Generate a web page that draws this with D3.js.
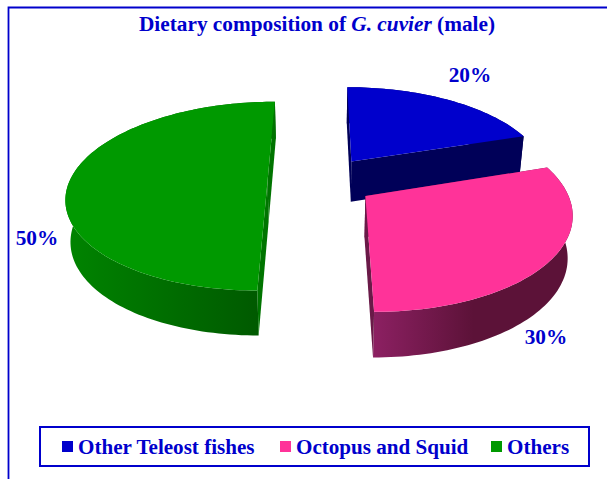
<!DOCTYPE html>
<html><head><meta charset="utf-8">
<script src="https://cdn.jsdelivr.net/npm/d3@7"></script>
<style>html,body{margin:0;padding:0;background:#fff}svg{display:block}text{font-family:"Liberation Serif",serif;font-weight:bold;fill:#0000cc}</style>
</head><body><svg id="c" width="607" height="479"></svg>
<script>
const categories = ["Other Teleost fishes", "Octopus and Squid", "Others"];
const values = [20, 30, 50];
const colors = ["#0000cc", "#ff3399", "#009900"];
const wallLight = ["#00006e", "#8c2062", "#008400"];
const wallDark = ["#000050", "#5c1238", "#005600"];
const cutColors = ["#000058", "#6a1a48", "#007400"];
const labels = ["20%", "30%", "50%"];

const W = 607, H = 479;
const svg = d3.select("#c");
const defs = svg.append("defs");

const startDeg = 0, cx = 321, cy = 181, Rx = 198, Ry = 92, k = 0.16, explode = 0.27, taper = 0.98;
const pie = d3.pie().sort(null).value(d => d)
  .startAngle(startDeg * Math.PI / 180).endAngle((startDeg + 360) * Math.PI / 180);
const arcs = pie(values);

const proj = (u, v) => { const w = 1 - k * v; return [cx + Rx * u / w, cy + Ry * v / w]; };
const depth = v => 41 + 4 * v;
const line = d3.line();

function slicePts(a) {
  const mid = (a.startAngle + a.endAngle) / 2;
  const ou = explode * Math.sin(mid), ov = -explode * Math.cos(mid);
  const n = Math.max(4, Math.ceil((a.endAngle - a.startAngle) * 40));
  const ang = d3.range(n + 1).map(i => a.startAngle + (a.endAngle - a.startAngle) * i / n);
  const rim = ang.map(t => [ou + Math.sin(t), ov - Math.cos(t)]);
  return { apex: [ou, ov], rim };
}
const topPt = p => proj(p[0], p[1]);
const botPt = p => { const q = proj(p[0], p[1]); return [cx + (q[0] - cx) * taper, q[1] + depth(p[1])]; };

const order = [2, 0, 1];
order.forEach(i => {
  const a = arcs[i], s = slicePts(a), g = svg.append("g");
  const tr = s.rim.map(topPt), br = s.rim.map(botPt);
  const xs = tr.map(p => p[0]);
  const gid = "w" + i;
  const lg = defs.append("linearGradient").attr("id", gid).attr("gradientUnits", "userSpaceOnUse")
    .attr("x1", d3.min(xs)).attr("x2", d3.max(xs)).attr("y1", 0).attr("y2", 0);
  lg.append("stop").attr("offset", 0).attr("stop-color", wallLight[i]);
  lg.append("stop").attr("offset", i === 1 ? 0.5 : 1).attr("stop-color", wallDark[i]);
  if (i === 1) lg.append("stop").attr("offset", 1).attr("stop-color", wallDark[i]);
  // outer wall
  g.append("path").attr("d", line(tr.concat(br.slice().reverse())) + "Z").attr("fill", `url(#${gid})`);
  // cut faces
  [s.rim[0], s.rim[s.rim.length - 1]].forEach(r => {
    g.append("path").attr("d", line([topPt(s.apex), topPt(r), botPt(r), botPt(s.apex)]) + "Z").attr("fill", cutColors[i]);
  });
  // top face
  g.append("path").attr("d", line([topPt(s.apex)].concat(tr)) + "Z").attr("fill", colors[i]);
});

// frame
svg.append("path").attr("d", d3.line()([[8.5, H], [8.5, 7.5], [W, 7.5]]))
  .attr("fill", "none").attr("stroke", "#0000cc").attr("stroke-width", 1.8);

svg.append("text").attr("x", 317).attr("y", 30.5).attr("text-anchor", "middle").attr("font-size", 21.3)
  .call(t => {
    t.append("tspan").text("Dietary composition of ");
    t.append("tspan").attr("font-style", "italic").text("G. cuvier");
    t.append("tspan").text(" (male)");
  });

const labelPos = [[470, 82], [546, 344], [37, 245]];
labels.forEach((l, i) => svg.append("text").attr("x", labelPos[i][0]).attr("y", labelPos[i][1])
  .attr("text-anchor", "middle").attr("font-size", 21.3).text(l));

// legend
svg.append("rect").attr("x", 40).attr("y", 427).attr("width", 549).attr("height", 39)
  .attr("fill", "#fff").attr("stroke", "#0000cc").attr("stroke-width", 2);
const legendX = [62, 280, 491];
categories.forEach((c, i) => {
  svg.append("rect").attr("x", legendX[i]).attr("y", 441).attr("width", 11).attr("height", 11).attr("fill", colors[i]);
  svg.append("text").attr("x", legendX[i] + 16).attr("y", 454).attr("font-size", 21.1).text(c);
});
</script></body></html>
